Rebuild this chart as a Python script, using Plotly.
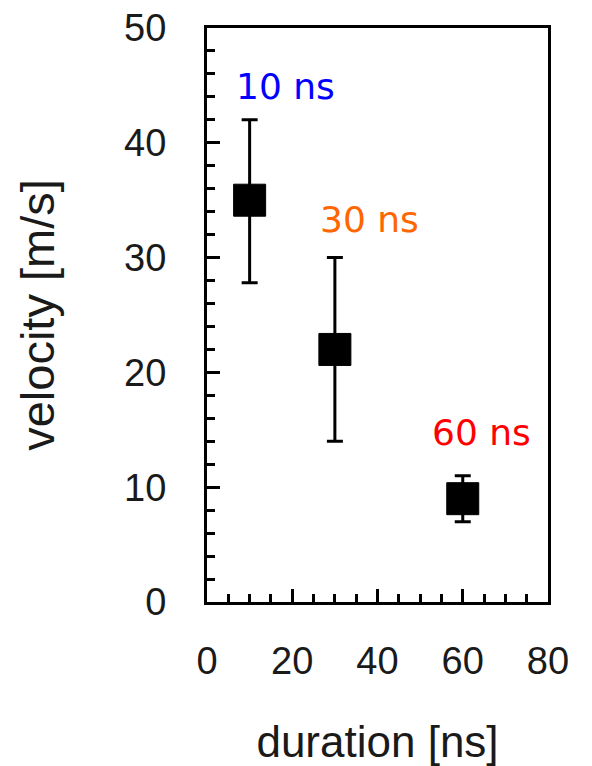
import plotly.graph_objects as go

# Pulse duration vs. measured velocity
duration_ns = [10, 30, 60]
velocity_ms = [35, 22, 9]
err_upper = [7, 8, 2]
err_lower = [7.2, 8, 2]

label_text = ["10 ns", "30 ns", "60 ns"]
label_x = [18.3, 38.2, 64.3]
label_y = [44.9, 33.3, 14.8]
label_color = ["#0000FF", "#FF6600", "#FF0000"]

fig = go.Figure()
fig.add_trace(go.Scatter(
    x=duration_ns,
    y=velocity_ms,
    mode="markers",
    marker=dict(symbol="square", size=32, color="black",
                line=dict(color="black", width=1)),
    error_y=dict(type="data", symmetric=False, array=err_upper,
                 arrayminus=err_lower, color="black", thickness=3, width=8),
    showlegend=False,
))

for t, x, y, c in zip(label_text, label_x, label_y, label_color):
    fig.add_annotation(x=x, y=y, text=t, showarrow=False,
                       font=dict(family="DejaVu Sans", size=36, color=c),
                       xanchor="center", yanchor="middle")

axis_common = dict(
    showgrid=False, zeroline=False,
    showline=True, linecolor="black", linewidth=3, mirror=True,
    ticks="inside", tickcolor="black", tickwidth=3, ticklen=13,
    tickfont=dict(family="Liberation Sans", size=38, color="#1a1a1a"),
)

fig.update_xaxes(
    range=[0, 80], tick0=0, dtick=20,
    minor=dict(dtick=5, ticks="inside", ticklen=8, tickwidth=3, tickcolor="black"),
    ticklabelstandoff=23,
    title=dict(text="duration [ns]", standoff=55,
               font=dict(family="Liberation Sans", size=44, color="#1a1a1a")),
    **axis_common,
)
fig.update_yaxes(
    range=[0, 50], tick0=0, dtick=10,
    minor=dict(dtick=2, ticks="inside", ticklen=8, tickwidth=3, tickcolor="black"),
    ticklabelstandoff=30,
    title=dict(text="velocity [m/s]", standoff=55,
               font=dict(family="Liberation Sans", size=47, color="#1a1a1a")),
    **axis_common,
)

fig.update_layout(
    width=592, height=766,
    margin=dict(l=207, r=44, t=28, b=164, autoexpand=False),
    plot_bgcolor="white", paper_bgcolor="white",
)

fig.write_html("out.html")
